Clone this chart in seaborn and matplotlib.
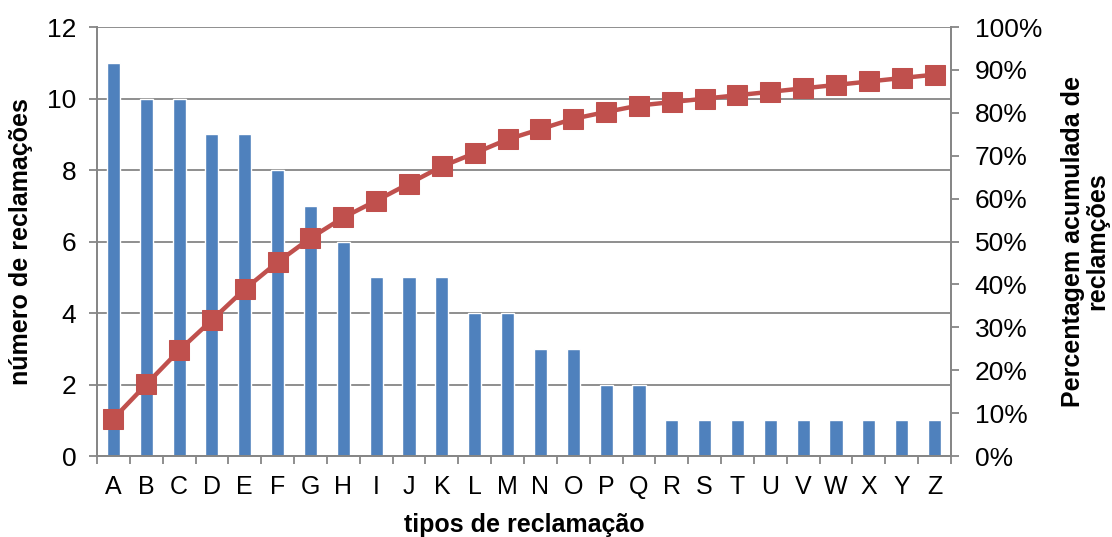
import numpy as np
import matplotlib
matplotlib.use("Agg")
import matplotlib.pyplot as plt
import seaborn as sns
from matplotlib.ticker import PercentFormatter, FixedLocator

# dados
tipos = list("ABCDEFGHIJKLMNOPQRSTUVWXYZ")
reclamacoes = [11, 10, 10, 9, 9, 8, 7, 6, 5, 5, 5, 4, 4, 3, 3, 2, 2,
               1, 1, 1, 1, 1, 1, 1, 1, 1]
perc_acumulada = [8.7, 16.7, 24.6, 31.7, 38.9, 45.2, 50.8, 55.6, 59.5, 63.5,
                  67.5, 70.6, 73.8, 76.2, 78.6, 80.2, 81.7, 82.5, 83.3, 84.1,
                  84.9, 85.7, 86.5, 87.3, 88.1, 88.9]

sns.set_style("white")
plt.rcParams["font.family"] = ["Liberation Sans", "DejaVu Sans"]
plt.rcParams["text.color"] = "black"
plt.rcParams["axes.labelcolor"] = "black"

cinza = "#868686"
fig = plt.figure(figsize=(11.12, 5.37), dpi=100)
ax = fig.add_axes([0.0872, 0.1508, 0.7680, 0.7989])

sns.barplot(x=tipos, y=reclamacoes, color="#4F81BD", width=0.4,
            saturation=1, ax=ax)
ax.set_ylim(0, 12)
ax.set_xlim(-0.5, len(tipos) - 0.5)
ax.set_yticks(range(0, 13, 2))
ax.yaxis.grid(True, color=cinza, linewidth=1.3)
ax.set_axisbelow(True)

ax2 = ax.twinx()
pos = np.arange(len(tipos))
sns.lineplot(x=pos, y=np.array(perc_acumulada) / 100, ax=ax2,
             color="#C0504D", linewidth=3.2, marker="s", markersize=14,
             markeredgecolor="#C0504D")
ax2.set_ylim(0, 1)
ax2.set_yticks(np.arange(0, 1.01, 0.1))
ax2.yaxis.set_major_formatter(PercentFormatter(1.0, decimals=0))
ax2.set_xlim(-0.5, len(tipos) - 0.5)

# eixo x: rótulos no centro, marcas entre categorias
ax.set_xticks(pos)
ax.set_xticklabels(tipos)
ax.xaxis.set_minor_locator(FixedLocator(np.arange(-0.5, len(tipos), 1)))
ax.tick_params(axis="x", which="major", length=0, pad=14, labelsize=18,
               labelcolor="black")
ax.tick_params(axis="x", which="minor", length=6, width=1.3, color=cinza,
               direction="out", bottom=True)
ax.tick_params(axis="y", length=6, width=1.3, color=cinza, direction="out",
               left=True, pad=9, labelsize=19, labelcolor="black")
ax2.tick_params(axis="y", length=6, width=1.3, color=cinza, direction="out",
                right=True, pad=11, labelsize=19, labelcolor="black")

for a in (ax, ax2):
    a.spines["top"].set_visible(False)
    for s in ("left", "right", "bottom"):
        a.spines[s].set_color(cinza)
        a.spines[s].set_linewidth(1.3)

ax.set_xlabel("tipos de reclamação", fontsize=18, fontweight="bold",
              labelpad=10)
ax.set_ylabel("número de reclamações", fontsize=18, fontweight="bold",
              labelpad=10)
ax2.set_ylabel("Percentagem acumulada de\nreclamções", fontsize=18,
               fontweight="bold", labelpad=14, linespacing=1.0)

fig.savefig("out.png", dpi=100)
